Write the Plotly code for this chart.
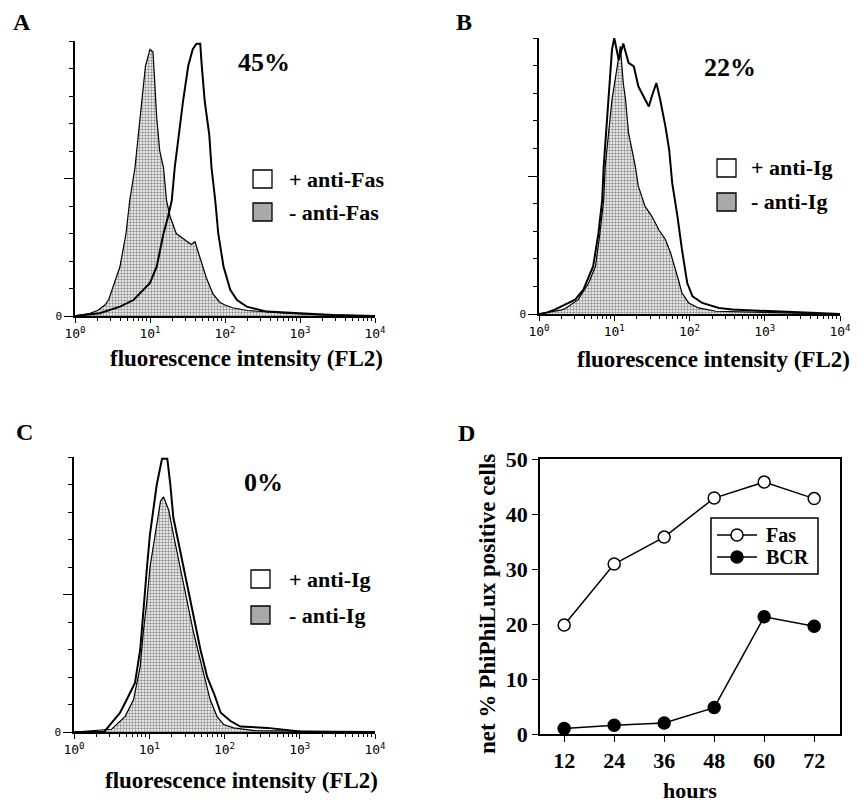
import plotly.graph_objects as go

W, H = 864, 800

# ---------------- data ----------------
# Histograms: x = log10(fluorescence), y = relative cell count (axis top = 100)
a_minus_log = [0.0, 0.1, 0.2, 0.3, 0.4, 0.45, 0.53, 0.6, 0.68, 0.73, 0.8, 0.84, 0.89, 0.94, 1.0, 1.04,
               1.06, 1.09, 1.13, 1.18, 1.22, 1.27, 1.35, 1.45, 1.55, 1.6, 1.68, 1.75, 1.84, 1.93, 2.0,
               2.1, 2.3, 2.5, 2.8, 3.2, 3.6, 4.0]
a_minus = [0, 0.5, 1, 2, 4, 6, 12, 18, 30, 42, 54, 66, 78, 91, 97, 96,
           84, 72, 60, 54, 42, 36, 30, 28, 26, 27, 20, 14, 8, 5, 4,
           3, 2, 1.5, 1, 0.5, 0.2, 0]
a_plus_log = [0.0, 0.2, 0.33, 0.6, 0.78, 0.91, 1.0, 1.09, 1.13, 1.18, 1.24, 1.29, 1.33, 1.38, 1.44,
              1.51, 1.57, 1.62, 1.67, 1.69, 1.73, 1.79, 1.82, 1.87, 1.91, 1.98, 2.07, 2.16, 2.29,
              2.56, 3.0, 3.44, 4.0]
a_plus = [0, 0.5, 1, 3.4, 5.8, 9.5, 12, 18, 24, 30, 36, 42, 54, 66, 78,
          91, 97, 99, 99, 91, 78, 66, 54, 42, 30, 18, 9.5, 5.8, 3.4,
          1.6, 1, 0.4, 0]

b_minus_log = [0.0, 0.12, 0.3, 0.35, 0.52, 0.66, 0.75, 0.81, 0.86, 0.88, 0.92, 0.97, 1.04, 1.08,
               1.12, 1.15, 1.19, 1.24, 1.28, 1.32, 1.41, 1.5, 1.59, 1.68, 1.75, 1.84, 1.9, 1.99,
               2.12, 2.35, 2.8, 3.4, 4.0]
b_minus = [0, 0.5, 1.5, 2, 5.2, 11.2, 17.3, 29.3, 41.4, 53.5, 65.6, 77.7, 89.7, 97,
           83.7, 77.7, 65.6, 59.5, 53.5, 46.3, 39, 35.4, 30.6, 27, 22, 13.6, 7.6, 4,
           2.2, 1, 0.6, 0.3, 0]
b_plus_log = [0.0, 0.1, 0.21, 0.35, 0.48, 0.59, 0.72, 0.79, 0.84, 0.86, 0.89, 0.92, 0.95, 0.97, 1.0,
              1.06, 1.12, 1.19, 1.26, 1.32, 1.41, 1.46, 1.5, 1.56, 1.61, 1.68, 1.73, 1.77, 1.84,
              1.9, 1.97, 2.04, 2.17, 2.39, 2.57, 3.01, 3.46, 4.0]
b_plus = [0, 0.5, 1.6, 3.4, 5.2, 8.8, 17.3, 29.3, 41.4, 53.5, 65.6, 77.7, 89.7, 95.8, 100,
          92, 98, 91, 89.7, 82.5, 77.7, 75.2, 78.9, 83.7, 77.7, 68, 59.5, 47.5, 35.4,
          23.3, 11.2, 6.4, 4, 2.2, 1.6, 1, 0.6, 0]

c_minus_log = [0.0, 0.5, 0.68, 0.79, 0.88, 0.92, 0.97, 1.01, 1.08, 1.15, 1.19, 1.26, 1.32, 1.41,
               1.5, 1.59, 1.7, 1.81, 1.9, 1.99, 2.12, 2.4, 4.0]
c_minus = [0, 1, 5.7, 11.7, 23.8, 36, 48, 60, 72, 84, 85.5, 80.6, 72, 60,
           48, 36, 23.8, 11.7, 5.7, 2.7, 1.5, 0.5, 0]
c_plus_log = [0.0, 0.4, 0.48, 0.61, 0.7, 0.81, 0.88, 0.93, 0.97, 1.01, 1.07, 1.1, 1.17, 1.24, 1.28,
              1.32, 1.41, 1.5, 1.59, 1.68, 1.77, 1.86, 1.95, 2.08, 2.21, 2.57, 3.0, 4.0]
c_plus = [0, 0, 2.7, 6.9, 11.7, 17.8, 29.9, 48, 60, 72, 84, 90, 99.4, 99.4, 90,
          78, 66, 54, 42, 30, 20, 14, 7, 4, 2, 1.5, 0.2, 0]

# Panel D
hours = [12, 24, 36, 48, 60, 72]
fas = [19.8, 30.9, 35.8, 42.9, 45.8, 42.8]
bcr = [1.0, 1.6, 2.0, 4.8, 21.3, 19.6]

hist_ticks = [1, 10, 100, 1000, 10000]
hist_ticktext = ["10<sup>0</sup>", "10<sup>1</sup>", "10<sup>2</sup>", "10<sup>3</sup>", "10<sup>4</sup>"]
hist_minor = [m * d for d in (1, 10, 100, 1000) for m in range(2, 10)]

panels = [
    dict(name="A", mlog=a_minus_log, m=a_minus, plog=a_plus_log, p=a_plus,
         px=(75, 375), py=(41, 316), pct="45%", pctpos=(264, 63),
         leg=("+ anti-Fas", "- anti-Fas"), sq=(253, 170, 203), txtx=287,
         title=(246, 358), letter=(22, 22)),
    dict(name="B", mlog=b_minus_log, m=b_minus, plog=b_plus_log, p=b_plus,
         px=(539, 840), py=(38, 314), pct="22%", pctpos=(730, 68),
         leg=("+ anti-Ig", "- anti-Ig"), sq=(717, 159, 193), txtx=749,
         title=(713, 360), letter=(464, 22)),
    dict(name="C", mlog=c_minus_log, m=c_minus, plog=c_plus_log, p=c_plus,
         px=(74, 375), py=(457, 732), pct="0%", pctpos=(263, 482),
         leg=("+ anti-Ig", "- anti-Ig"), sq=(251, 570, 606), txtx=287,
         title=(242, 780), letter=(24, 432)),
]

SERIF = "Liberation Serif"
MONO = "DejaVu Sans Mono"
OFF = 8  # page body margin


def fx(x):
    return (x - OFF) / W


def fy(y):
    return 1 - (y - OFF) / H


fig = go.Figure()
annotations = []
shapes = []

for i, pnl in enumerate(panels, start=1):
    xa = "x" if i == 1 else f"x{i}"
    ya = "y" if i == 1 else f"y{i}"
    fig.add_trace(go.Scatter(
        x=[10 ** v for v in pnl["mlog"]], y=pnl["m"], xaxis=xa, yaxis=ya,
        mode="lines", line=dict(color="black", width=1.2), fill="tozeroy",
        fillpattern=dict(shape=".", fgcolor="#222222", bgcolor="white", size=3, solidity=0.5),
        showlegend=False, hoverinfo="skip"))
    fig.add_trace(go.Scatter(
        x=[10 ** v for v in pnl["plog"]], y=pnl["p"], xaxis=xa, yaxis=ya,
        mode="lines", line=dict(color="black", width=2),
        showlegend=False, hoverinfo="skip"))

    xkey = "xaxis" if i == 1 else f"xaxis{i}"
    ykey = "yaxis" if i == 1 else f"yaxis{i}"
    fig.update_layout(**{
        xkey: dict(type="log", range=[0, 4], domain=[fx(pnl["px"][0]), fx(pnl["px"][1])],
                   anchor=ya, showline=True, linecolor="black", linewidth=1.5,
                   ticks="outside", ticklen=5, tickwidth=1.2, tickcolor="black",
                   tickvals=hist_ticks, ticktext=hist_ticktext, automargin=False,
                   tickfont=dict(family=MONO, size=13, color="black"),
                   minor=dict(tickvals=hist_minor, ticks="outside", ticklen=3,
                              tickwidth=1, tickcolor="black", showgrid=False),
                   showgrid=False, zeroline=False),
        ykey: dict(range=[0, 100], domain=[fy(pnl["py"][1]), fy(pnl["py"][0])],
                   anchor=xa, showline=True, linecolor="black", linewidth=1.5,
                   ticks="outside", ticklen=9, tickwidth=1, tickcolor="black",
                   tickvals=[0, 50], ticktext=["0", ""], automargin=False,
                   tickfont=dict(family=MONO, size=11, color="black"),
                   minor=dict(tickvals=[10, 20, 30, 40, 60, 70, 80, 90, 100], ticks="outside",
                              ticklen=4, tickwidth=1, tickcolor="black", showgrid=False),
                   showgrid=False, zeroline=False),
    })

    # percent label
    annotations.append(dict(x=fx(pnl["pctpos"][0]), y=fy(pnl["pctpos"][1]), xref="paper", yref="paper",
                            text=pnl["pct"], showarrow=False, xanchor="center", yanchor="middle",
                            font=dict(family=SERIF, size=26, color="black", weight="bold")))
    # axis title
    annotations.append(dict(x=fx(pnl["title"][0]), y=fy(pnl["title"][1]), xref="paper", yref="paper",
                            text="fluorescence intensity (FL2)", showarrow=False,
                            xanchor="center", yanchor="middle",
                            font=dict(family=SERIF, size=23, color="black", weight="bold")))
    # panel letter
    annotations.append(dict(x=fx(pnl["letter"][0]), y=fy(pnl["letter"][1]), xref="paper", yref="paper",
                            text=pnl["name"], showarrow=False, xanchor="center", yanchor="middle",
                            font=dict(family=SERIF, size=24, color="black", weight="bold")))
    # legend squares + text
    sx, sy1, sy2 = pnl["sq"]
    for sy, label, filled in ((sy1, pnl["leg"][0], False), (sy2, pnl["leg"][1], True)):
        shapes.append(dict(type="rect", xref="paper", yref="paper",
                           x0=fx(sx), x1=fx(sx + 19), y0=fy(sy + 18), y1=fy(sy),
                           line=dict(color="black", width=1.3),
                           fillcolor="#a9a9a9" if filled else "white"))
        annotations.append(dict(x=fx(pnl["txtx"]), y=fy(sy + 9), xref="paper", yref="paper",
                                xanchor="left", yanchor="middle", text=label, showarrow=False,
                                font=dict(family=SERIF, size=22, color="black", weight="bold")))

# Panel D
fig.add_trace(go.Scatter(x=hours, y=fas, xaxis="x4", yaxis="y4", mode="lines+markers", name="Fas",
                         line=dict(color="black", width=1.5), showlegend=False,
                         marker=dict(symbol="circle", size=12, color="white",
                                     line=dict(color="black", width=1.5))))
fig.add_trace(go.Scatter(x=hours, y=bcr, xaxis="x4", yaxis="y4", mode="lines+markers", name="BCR",
                         line=dict(color="black", width=1.5), showlegend=False,
                         marker=dict(symbol="circle", size=12, color="black",
                                     line=dict(color="black", width=1.5))))

fig.update_layout(
    xaxis4=dict(range=[6.2, 78.2], domain=[fx(540), fx(840)], anchor="y4", automargin=False,
                showline=True, mirror=True, linecolor="black", linewidth=1.5,
                ticks="outside", ticklen=6, tickwidth=1.2, tickcolor="black",
                tickvals=hours, tickfont=dict(family=SERIF, size=22, color="black", weight="bold"),
                showgrid=False, zeroline=False),
    yaxis4=dict(range=[0, 50], domain=[fy(734), fy(459)], anchor="x4", automargin=False,
                showline=True, mirror=True, linecolor="black", linewidth=1.5,
                ticks="outside", ticklen=6, tickwidth=1.2, tickcolor="black",
                tickvals=[0, 10, 20, 30, 40, 50],
                tickfont=dict(family=SERIF, size=22, color="black", weight="bold"),
                showgrid=False, zeroline=False),
)

# manual legend for panel D
shapes.append(dict(type="rect", xref="paper", yref="paper", x0=fx(711), x1=fx(818),
                   y0=fy(574), y1=fy(518), line=dict(color="black", width=1.5), fillcolor="white"))
for ly, label, mfill in ((535, "Fas", "white"), (557, "BCR", "black")):
    shapes.append(dict(type="line", xref="paper", yref="paper", x0=fx(717), x1=fx(757),
                       y0=fy(ly), y1=fy(ly), line=dict(color="black", width=1.5)))
    shapes.append(dict(type="circle", xref="paper", yref="paper", x0=fx(731), x1=fx(743),
                       y0=fy(ly + 6), y1=fy(ly - 6), line=dict(color="black", width=1.5),
                       fillcolor=mfill))
    annotations.append(dict(x=fx(764), y=fy(ly), xref="paper", yref="paper", text=label,
                            xanchor="left", yanchor="middle", showarrow=False,
                            font=dict(family=SERIF, size=20, color="black", weight="bold")))

annotations.append(dict(x=fx(690), y=fy(790), xref="paper", yref="paper", text="hours",
                        xanchor="center", yanchor="middle", showarrow=False,
                        font=dict(family=SERIF, size=22, color="black", weight="bold")))
annotations.append(dict(x=fx(487), y=fy(604), xref="paper", yref="paper",
                        text="net % PhiPhiLux positive cells", textangle=-90,
                        xanchor="center", yanchor="middle", showarrow=False,
                        font=dict(family=SERIF, size=23, color="black", weight="bold")))
annotations.append(dict(x=fx(466), y=fy(433), xref="paper", yref="paper", text="D",
                        xanchor="center", yanchor="middle", showarrow=False,
                        font=dict(family=SERIF, size=24, color="black", weight="bold")))

fig.update_layout(
    width=W, height=H, margin=dict(l=0, r=0, t=0, b=0, autoexpand=False),
    paper_bgcolor="white", plot_bgcolor="rgba(0,0,0,0)",
    showlegend=False,
    annotations=annotations, shapes=shapes,
)

fig.write_html("out.html")
